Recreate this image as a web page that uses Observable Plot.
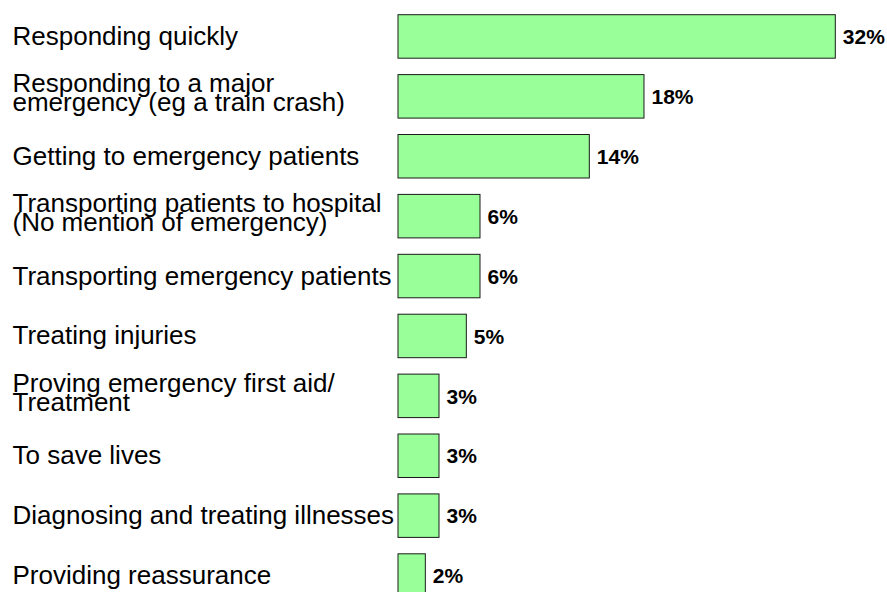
<!DOCTYPE html>
<html><head><meta charset="utf-8">
<script src="https://cdn.jsdelivr.net/npm/d3@7"></script>
<script src="https://cdn.jsdelivr.net/npm/@observablehq/plot@0.6"></script>
<style>
html,body{margin:0;padding:0;background:#fff;overflow:hidden;}
</style></head><body><div id="chart"></div>
<script>
const categories = [
  "Responding quickly",
  "Responding to a major\nemergency (eg a train crash)",
  "Getting to emergency patients",
  "Transporting patients to hospital\n(No mention of emergency)",
  "Transporting emergency patients",
  "Treating injuries",
  "Proving emergency first aid/\nTreatment",
  "To save lives",
  "Diagnosing and treating illnesses",
  "Providing reassurance"
];
const values = [32, 18, 14, 6, 6, 5, 3, 3, 3, 2];
const data = categories.map((c, i) => ({category: c, value: values[i]}));
const single = data.filter(d => !d.category.includes("\n"));
const multi = data.filter(d => d.category.includes("\n"));

const labelStyle = {y: "category", text: "category", frameAnchor: "left", textAnchor: "start", dx: -386, fontSize: 26, lineHeight: 0.72, fill: "#000"};

const chart = Plot.plot({
  width: 887, height: 592,
  marginLeft: 398, marginRight: 51.7, marginTop: 0, marginBottom: 0,
  style: {fontFamily: "'Liberation Sans', Arial, sans-serif", background: "#fff", color: "#000"},
  x: {domain: [0, 32], axis: null},
  y: {domain: categories, range: [6.5, 605.5], paddingInner: 0.274, paddingOuter: 0.137, axis: null, round: false},
  marks: [
    Plot.barX(data, {x: "value", y: "category", fill: "#99ff99", stroke: "#1a1a1a", strokeWidth: 1}),
    Plot.text(data, {x: "value", y: "category", text: d => `${d.value}%`, textAnchor: "start", dx: 7, dy: 0.5, fontSize: 21, fontWeight: "bold", fill: "#000"}),
    Plot.text(single, {...labelStyle, dy: 2}),
    Plot.text(multi, {...labelStyle, dy: -1})
  ]
});
document.getElementById("chart").append(chart);
</script></body></html>
